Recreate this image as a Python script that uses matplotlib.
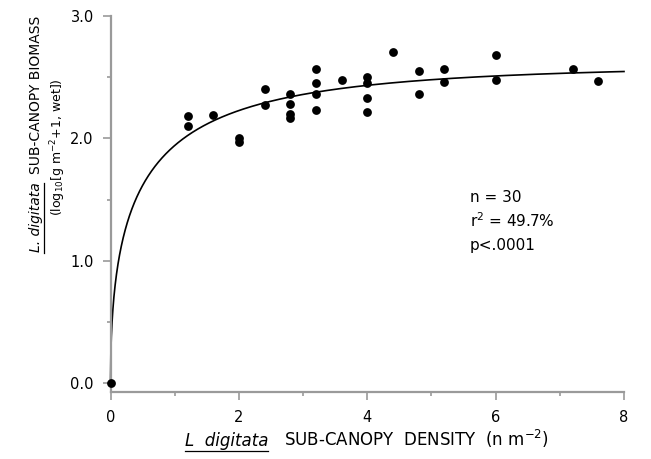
import numpy as np
import matplotlib
matplotlib.use("Agg")
import matplotlib.pyplot as plt
from matplotlib.ticker import MultipleLocator, FormatStrFormatter
from matplotlib.lines import Line2D

# --- data ---
density = [0.0, 1.2, 1.2, 1.6, 2.0, 2.0, 2.4, 2.4, 2.8, 2.8, 2.8, 2.8,
           3.2, 3.2, 3.2, 3.2, 3.6, 4.0, 4.0, 4.0, 4.0, 4.4, 4.8, 4.8,
           5.2, 5.2, 6.0, 6.0, 7.2, 7.6]
biomass = [0.00, 2.18, 2.10, 2.19, 2.00, 1.97, 2.40, 2.27, 2.36, 2.28, 2.20, 2.17,
           2.57, 2.45, 2.36, 2.23, 2.48, 2.50, 2.45, 2.33, 2.22, 2.71, 2.55, 2.36,
           2.57, 2.46, 2.68, 2.48, 2.57, 2.47]
# fitted curve (asymptote, rate, exponent)
fit_top, fit_rate, fit_pow = 2.6, 1.375, 0.5
stats_lines = ["n = 30", "r$^2$ = 49.7%", "p<.0001"]

W, H = 651, 459
fig = plt.figure(figsize=(W / 100, H / 100), dpi=100)
ax = fig.add_axes([110.5 / W, 67 / H, 513.5 / W, 376 / H])
grey = "#9a9a9a"

xs = np.linspace(0, 8, 3000)
ax.plot(xs, fit_top * (1 - np.exp(-fit_rate * xs ** fit_pow)), c="k", lw=1.2, clip_on=False)
ax.scatter(density, biomass, s=40, c="k", zorder=3, clip_on=False, linewidths=0)

ax.set_xlim(0, 8); ax.set_ylim(-0.07, 3.0)
for s in ("top", "right"): ax.spines[s].set_visible(False)
for s in ("left", "bottom"): ax.spines[s].set_color(grey); ax.spines[s].set_linewidth(1.6)
ax.xaxis.set_major_locator(MultipleLocator(2)); ax.xaxis.set_minor_locator(MultipleLocator(1))
ax.yaxis.set_major_locator(MultipleLocator(1)); ax.yaxis.set_minor_locator(MultipleLocator(0.5))
ax.yaxis.set_major_formatter(FormatStrFormatter("%.1f"))
ax.tick_params(which="both", color=grey, width=1.2, labelsize=10.5)
ax.tick_params(which="major", length=6)
ax.tick_params(which="minor", length=3)
ax.tick_params(axis="y", pad=6); ax.tick_params(axis="x", pad=7)

for i, line in enumerate(stats_lines):
    ax.text(5.6, 1.52 - i * 0.195, line, fontsize=11, va="center")

fig.canvas.draw()
rend = fig.canvas.get_renderer()

def label(parts, cx, cy, rot, size, gap):
    """parts: (text, style, underline); cx, cy in pixels (centre of baseline run)"""
    arts = []
    for txt, st, ul in parts:
        t = fig.text(0, 0, txt, fontsize=size, style=st, rotation=rot, rotation_mode="anchor",
                     ha="left", va="baseline")
        bb = t.get_window_extent(rend)
        arts.append((t, bb.width if rot == 0 else bb.height, ul))
    total = sum(a[1] for a in arts) + gap * (len(arts) - 1)
    pos = (cx if rot == 0 else cy) - total / 2
    for t, ln, ul in arts:
        if rot == 0:
            t.set_position((pos / W, cy / H))
            if ul:
                fig.add_artist(Line2D([pos / W, (pos + ln) / W], [(cy - 5) / H] * 2, color="k", lw=0.9))
        else:
            t.set_position((cx / W, pos / H))
            if ul:
                fig.add_artist(Line2D([(cx + 4) / W] * 2, [pos / H, (pos + ln) / H], color="k", lw=0.9))
        pos += ln + gap

# x label
label([("L  digitata", "italic", True), ("SUB-CANOPY  DENSITY  (n m$^{-2}$)", "normal", False)],
      367, H - 446, 0, 12, 16)
# y label, two lines
label([("L. digitata", "italic", True), ("SUB-CANOPY BIOMASS", "normal", False)],
      40, H - 134, 90, 10, 9)
fig.text(58 / W, 1 - 147 / H, "(log$_{10}$[g m$^{-2}$+1, wet])", fontsize=9, rotation=90,
         ha="center", va="center")

fig.savefig("out.png", dpi=100)
